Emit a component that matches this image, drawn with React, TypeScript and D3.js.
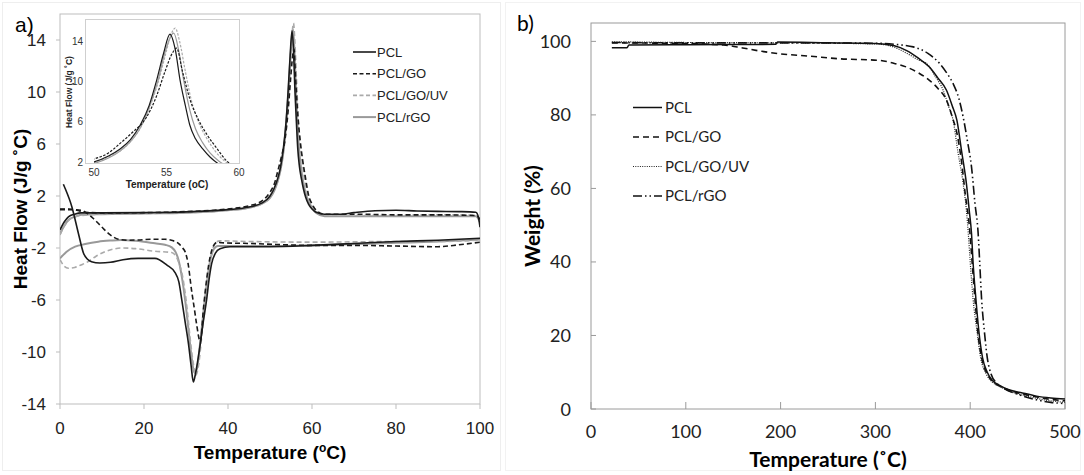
import React from "react";
import * as d3 from "d3";

type Pt = [number, number];

// DSC heating runs [T, heat flow]
const pclHeat: Pt[] = [[0,-0.6],[1,0.0],[2,0.4],[3.5,0.6],[5,0.7],[10,0.7],[20,0.72],[30,0.78],[40,0.95],[45,1.15],[48,1.45],[50,2.0],[51,2.6],[51.8,3.3],[52.5,4.2],[53.2,5.7],[53.8,7.6],[54.3,10.0],[54.8,12.8],[55.24,14.7],[55.6,13.2],[55.95,10.0],[56.3,7.6],[56.6,5.7],[57.0,4.3],[57.5,3.3],[58.0,2.5],[58.5,1.9],[59.2,1.35],[60,1.0],[61,0.75],[63,0.6],[67,0.6],[70,0.72],[75,0.87],[80,0.9],[85,0.85],[90,0.82],[95,0.8],[99,0.75],[99.6,0.4],[100,-0.4]];
const goHeat: Pt[] = [[0,1.0],[2,1.0],[4,0.9],[6,0.75],[10,0.7],[20,0.72],[30,0.8],[40,1.0],[45,1.25],[48,1.6],[50,2.3],[51,2.9],[51.8,3.85],[52.7,5.0],[53.6,6.4],[54.3,8.5],[54.9,11.0],[55.4,12.8],[55.7,13.3],[56.1,11.0],[56.6,8.3],[57.2,6.2],[57.8,4.7],[58.5,3.3],[59.15,2.1],[60,1.4],[61,0.9],[63,0.6],[70,0.6],[80,0.55],[90,0.55],[99,0.5],[100,0.2]];
const uvHeat: Pt[] = [[0,-1.0],[1,-0.3],[2,0.1],[3.5,0.4],[5,0.5],[10,0.6],[20,0.65],[30,0.72],[40,0.9],[45,1.1],[48,1.4],[50,1.9],[51,2.5],[51.8,3.1],[52.5,4.0],[53.2,5.4],[53.8,7.3],[54.4,9.8],[54.9,12.5],[55.3,14.6],[55.6,15.3],[55.9,14.0],[56.3,11.0],[56.7,8.2],[57.2,6.0],[57.8,4.3],[58.4,3.0],[59,2.1],[59.8,1.4],[61,0.8],[63,0.55],[70,0.5],[80,0.5],[90,0.55],[99,0.5],[100,0.1]];
const rgoHeat: Pt[] = [[0,-0.9],[1,-0.3],[2,0.15],[3.5,0.4],[5,0.55],[10,0.6],[20,0.65],[30,0.72],[40,0.9],[45,1.1],[48,1.4],[50,1.85],[51,2.4],[51.8,3.1],[52.5,4.0],[53.2,5.4],[53.8,7.4],[54.4,10.0],[54.9,12.9],[55.5,14.8],[55.85,13.0],[56.2,10.0],[56.6,7.2],[57,5.3],[57.5,3.9],[58,2.9],[58.6,2.1],[59.3,1.5],[60,1.1],[61,0.7],[63,0.45],[70,0.45],[80,0.45],[90,0.45],[99,0.45],[100,0.0]];

// DSC cooling runs [T, heat flow]
const pclCool: Pt[] = [[0.8,2.9],[1.2,2.6],[2.8,1.2],[4.4,-0.9],[5.6,-2.4],[6.5,-2.85],[7.5,-3.05],[9.5,-3.15],[12,-3.1],[15,-2.9],[18.6,-2.8],[22.6,-2.8],[25.4,-3.3],[27.4,-3.9],[28.3,-4.6],[29,-6.0],[29.8,-7.7],[30.6,-9.4],[31.2,-11.0],[31.75,-12.3],[32.3,-11.6],[33.3,-9.6],[34.1,-7.7],[34.9,-6.0],[35.5,-4.4],[36.1,-3.2],[37,-2.4],[38.1,-2.05],[40.5,-1.9],[50,-1.9],[60,-1.8],[70,-1.65],[80,-1.5],[90,-1.4],[100,-1.25]];
const goCool: Pt[] = [[0,0.95],[3,0.95],[5,0.9],[6.7,0.6],[8,0.25],[9.1,-0.1],[10.3,-0.5],[11.5,-0.87],[12.7,-1.15],[13.9,-1.33],[16,-1.4],[18.6,-1.38],[22,-1.33],[25,-1.33],[27,-1.45],[28.2,-1.64],[29.2,-2.0],[29.8,-2.3],[30.5,-3.2],[31.3,-5.2],[32.0,-6.7],[32.5,-7.8],[33.4,-9.2],[34.2,-6.5],[35,-4.2],[35.8,-2.6],[36.6,-1.8],[37.5,-1.55],[38.5,-1.6],[45,-1.65],[60,-1.8],[70,-1.8],[80,-1.85],[90,-1.9],[95,-1.75],[100,-1.55]];
const uvCool: Pt[] = [[0,-2.9],[1,-3.4],[2,-3.56],[3.5,-3.5],[5,-3.3],[6.7,-3.05],[8.5,-2.65],[10.7,-2.28],[12.5,-2.1],[14.7,-2.0],[18,-2.05],[22.6,-2.25],[26.6,-2.35],[28.2,-3.05],[29.2,-4.2],[30.2,-6.5],[31.0,-9.0],[31.7,-10.8],[32.3,-11.8],[33.0,-11.0],[33.8,-8.6],[34.6,-6.0],[35.4,-3.8],[36.2,-2.3],[37.0,-1.6],[38,-1.45],[45,-1.5],[60,-1.55],[80,-1.5],[90,-1.5],[100,-1.4]];
const rgoCool: Pt[] = [[0,-2.8],[1.5,-2.3],[3.6,-1.9],[6,-1.7],[9.1,-1.52],[12,-1.43],[14.6,-1.38],[18,-1.45],[22.6,-1.64],[25,-1.75],[26.6,-1.95],[27.5,-2.3],[28.2,-2.9],[29,-4.2],[29.8,-6.0],[30.6,-8.3],[31.3,-10.3],[32.0,-11.6],[32.6,-11.3],[33.4,-9.2],[34.2,-6.8],[35,-4.6],[35.8,-2.9],[36.6,-2.1],[37.6,-1.85],[40,-1.85],[50,-1.85],[60,-1.8],[80,-1.6],[90,-1.5],[100,-1.35]];

// TGA [T, weight %]
const pclTga: Pt[] = [[22,98.3],[38,98.3],[40,99.0],[100,99.1],[195,99.2],[197,99.8],[250,99.6],[300,99.4],[320,98.8],[333,97.5],[345,95.5],[357,93],[366,90],[375,86.7],[381,82.5],[386,78.5],[391,70],[396,61.3],[399,54],[401.4,47.7],[403,40],[406,30],[409,21.5],[413,14],[418,10],[423,7.9],[432,6.3],[440,5.3],[453,4.5],[470,3.5],[485,3],[500,2.7]];
const goTga: Pt[] = [[22,99.6],[100,99.4],[140,99.0],[160,98.2],[180,97.3],[200,96.6],[230,96.0],[260,95.3],[305,94.8],[320,94.0],[333,93],[345,91.5],[357,89.4],[366,87.2],[375,84],[381,79.5],[386,75],[391,67],[395,58],[399,50],[402,40],[405,30],[408,21],[412,14],[418,9.5],[425,7.2],[433,6],[445,4.8],[460,3.8],[480,2.8],[500,2.2]];
const uvTga: Pt[] = [[22,99.9],[100,99.7],[200,99.6],[300,99.3],[320,98.4],[335,96.5],[345,95],[354,94],[363,90.5],[371.5,86.7],[377,82.5],[382,78.5],[387,70],[392.6,61.3],[396,54],[398,47.7],[400,40],[403,30],[407,21.5],[411,14],[417,9.5],[423,7.4],[432,6],[445,4.5],[460,3.5],[480,2.4],[500,1.8]];
const rgoTga: Pt[] = [[22,99.7],[100,99.6],[200,99.6],[300,99.5],[320,99.2],[340,98.5],[355,96.8],[368,93.9],[375,91.5],[382,88.5],[388,84.5],[392.6,79.4],[397,73],[401.4,65.8],[405,56],[408.4,47.7],[410,40],[412,30],[415,21],[418,14],[422,9.5],[428,7.0],[436,5.5],[450,4],[470,2.5],[485,1.8],[500,1.5]];

const seriesNames = ["PCL", "PCL/GO", "PCL/GO/UV", "PCL/rGO"];
const dscXTicks = [0, 20, 40, 60, 80, 100];
const dscYTicks = [-14, -10, -6, -2, 2, 6, 10, 14];
const insetXTicks = [50, 55, 60];
const insetYTicks = [2, 6, 10, 14];
const tgaXTicks = [0, 100, 200, 300, 400, 500];
const tgaYTicks = [0, 20, 40, 60, 80, 100];

const ARIAL = "'Liberation Sans', Arial, sans-serif";
const CALIBRI = "Lato, 'Open Sans', sans-serif";

const dscStyles = [
  { stroke: "#1a1a1a", width: 1.6, dash: "" },
  { stroke: "#1a1a1a", width: 1.6, dash: "5,3" },
  { stroke: "#aaaaaa", width: 1.6, dash: "5,3" },
  { stroke: "#999999", width: 2, dash: "" },
];
const tgaStyles = [
  { stroke: "#111", width: 1.5, dash: "" },
  { stroke: "#111", width: 1.6, dash: "6,4" },
  { stroke: "#222", width: 1.2, dash: "1,1.3" },
  { stroke: "#111", width: 1.6, dash: "9,3,1.5,3,1.5,3" },
];

const App = () => {
  // panel a
  const ax = d3.scaleLinear().domain([0, 100]).range([60, 480]);
  const ay = d3.scaleLinear().domain([-14, 16]).range([404, 14]);
  const aLine = d3.line<Pt>().x(d => ax(d[0])).y(d => ay(d[1])).curve(d3.curveMonotoneX);

  // inset
  const ix = d3.scaleLinear().domain([50, 60]).range([94, 239]);
  const iy = d3.scaleLinear().domain([2, 16.2]).range([162, 19]);
  const iLine = d3.line<Pt>().x(d => ix(d[0])).y(d => iy(d[1])).curve(d3.curveMonotoneX);

  // panel b
  const bx = d3.scaleLinear().domain([0, 500]).range([591, 1065]);
  const by = d3.scaleLinear().domain([0, 105]).range([409, 23]);
  const bLine = d3.line<Pt>().x(d => bx(d[0])).y(d => by(d[1])).curve(d3.curveMonotoneX);

  const heats = [pclHeat, goHeat, uvHeat, rgoHeat];
  const cools = [pclCool, goCool, uvCool, rgoCool];
  const tgas = [pclTga, goTga, uvTga, rgoTga];
  const drawOrder = [3, 2, 1, 0];

  return (
    <div style={{ position: "absolute", left: 0, top: 0 }}>
      <svg width={1084} height={475} style={{ display: "block", background: "#fff" }}>
        <defs>
          <clipPath id="insetClip">
            <rect x={ix(50)} y={19} width={ix(60) - ix(50)} height={144} />
          </clipPath>
          <clipPath id="aClip">
            <rect x={60} y={14} width={420} height={390} />
          </clipPath>
        </defs>

        {/* faint panel frames */}
        <rect x={2.5} y={2.5} width={498} height={468} fill="none" stroke="#eeeeee" />
        <rect x={505.5} y={2.5} width={575} height={468} fill="none" stroke="#f2f2f2" />

        {/* ---------- panel a ---------- */}
        <text x={15} y={32} fontFamily={ARIAL} fontSize={21}>a)</text>
        <rect x={60} y={14} width={420} height={390} fill="none" stroke="#bdbdbd" />
        {dscYTicks.map(t => (
          <g key={"ay" + t}>
            <line x1={56} x2={60} y1={ay(t)} y2={ay(t)} stroke="#bdbdbd" />
            <text x={46} y={ay(t) + 6} textAnchor="end" fontFamily={ARIAL} fontSize={17} fill="#222">{t}</text>
          </g>
        ))}
        {dscXTicks.map(t => (
          <g key={"ax" + t}>
            <line x1={ax(t)} x2={ax(t)} y1={404} y2={409} stroke="#bdbdbd" />
            <text x={ax(t)} y={434} textAnchor="middle" fontFamily={ARIAL} fontSize={17} fill="#222">{t}</text>
          </g>
        ))}
        <text x={270} y={459} textAnchor="middle" fontFamily={ARIAL} fontSize={19} fontWeight="bold">
          Temperature (<tspan baselineShift="super" fontSize={12}>o</tspan>C)
        </text>
        <text transform={`translate(27,${209}) rotate(-90)`} textAnchor="middle" fontFamily={ARIAL} fontSize={19} fontWeight="bold">
          Heat Flow (J/g ˚C)
        </text>

        <g clipPath="url(#aClip)" fill="none" strokeLinejoin="round">
          {drawOrder.map(i => (
            <g key={"dsc" + i}>
              <path d={aLine(cools[i]) || ""} stroke={dscStyles[i].stroke} strokeWidth={dscStyles[i].width} strokeDasharray={dscStyles[i].dash} />
              <path d={aLine(heats[i]) || ""} stroke={dscStyles[i].stroke} strokeWidth={dscStyles[i].width} strokeDasharray={dscStyles[i].dash} />
            </g>
          ))}
        </g>

        {/* legend a */}
        {seriesNames.map((n, i) => (
          <g key={"la" + n}>
            <line x1={353} x2={376} y1={52 + i * 21.7} y2={52 + i * 21.7} stroke={dscStyles[i].stroke} strokeWidth={dscStyles[i].width} strokeDasharray={dscStyles[i].dash === "" ? "" : "4,2.5"} />
            <text x={377} y={52 + i * 21.7 + 4.5} fontFamily={ARIAL} fontSize={13} fill="#222">{n}</text>
          </g>
        ))}

        {/* inset */}
        <rect x={85.5} y={19.5} width={154} height={144} fill="#fff" stroke="#cfcfcf" />
        <g clipPath="url(#insetClip)" fill="none">
          {drawOrder.map(i => (
            <path key={"in" + i} d={iLine(heats[i]) || ""} stroke={dscStyles[i].stroke} strokeWidth={1.2}
              strokeDasharray={dscStyles[i].dash === "" ? "" : "2.5,1.5"} />
          ))}
        </g>
        {insetYTicks.map(t => (
          <text key={"iy" + t} x={83} y={iy(t) + 3.5} textAnchor="end" fontFamily={ARIAL} fontSize={10} fill="#333">{t}</text>
        ))}
        {insetXTicks.map(t => (
          <text key={"ix" + t} x={ix(t)} y={176} textAnchor="middle" fontFamily={ARIAL} fontSize={10} fill="#333">{t}</text>
        ))}
        <text x={167} y={188} textAnchor="middle" fontFamily={ARIAL} fontSize={10} fontWeight="bold" fill="#222">Temperature (oC)</text>
        <text transform={`translate(72,92) rotate(-90)`} textAnchor="middle" fontFamily={ARIAL} fontSize={8.5} fontWeight="bold" fill="#222">
          Heat Flow (J/g ˚C)
        </text>

        {/* ---------- panel b ---------- */}
        <text x={517} y={31} fontFamily={CALIBRI} fontSize={21}>b)</text>
        <rect x={591} y={23} width={474} height={386} fill="none" stroke="#9a9a9a" />
        {tgaYTicks.map(t => (
          <g key={"by" + t}>
            <line x1={591} x2={596} y1={by(t)} y2={by(t)} stroke="#9a9a9a" />
            <text x={571} y={by(t) + 6.5} textAnchor="end" fontFamily={CALIBRI} fontSize={18} fill="#222">{t}</text>
          </g>
        ))}
        {tgaXTicks.map(t => (
          <g key={"bx" + t}>
            <line x1={bx(t)} x2={bx(t)} y1={409} y2={402} stroke="#9a9a9a" />
            <text x={bx(t)} y={438} textAnchor="middle" fontFamily={CALIBRI} fontSize={18} fill="#222">{t}</text>
          </g>
        ))}
        <text x={828} y={467} textAnchor="middle" fontFamily={CALIBRI} fontSize={21} fontWeight="bold">Temperature (˚C)</text>
        <text transform={`translate(540,216) rotate(-90)`} textAnchor="middle" fontFamily={CALIBRI} fontSize={21} fontWeight="bold">Weight (%)</text>

        <g fill="none" strokeLinejoin="round">
          {drawOrder.map(i => (
            <path key={"tga" + i} d={bLine(tgas[i]) || ""} stroke={tgaStyles[i].stroke} strokeWidth={tgaStyles[i].width} strokeDasharray={tgaStyles[i].dash} />
          ))}
        </g>

        {/* legend b */}
        {seriesNames.map((n, i) => (
          <g key={"lb" + n}>
            <line x1={633} x2={662} y1={107.5 + i * 29.5} y2={107.5 + i * 29.5} stroke={tgaStyles[i].stroke} strokeWidth={tgaStyles[i].width} strokeDasharray={tgaStyles[i].dash} />
            <text x={665} y={107.5 + i * 29.5 + 5} fontFamily={CALIBRI} fontSize={15} fill="#222">{n}</text>
          </g>
        ))}
      </svg>
    </div>
  );
};

export default App;
